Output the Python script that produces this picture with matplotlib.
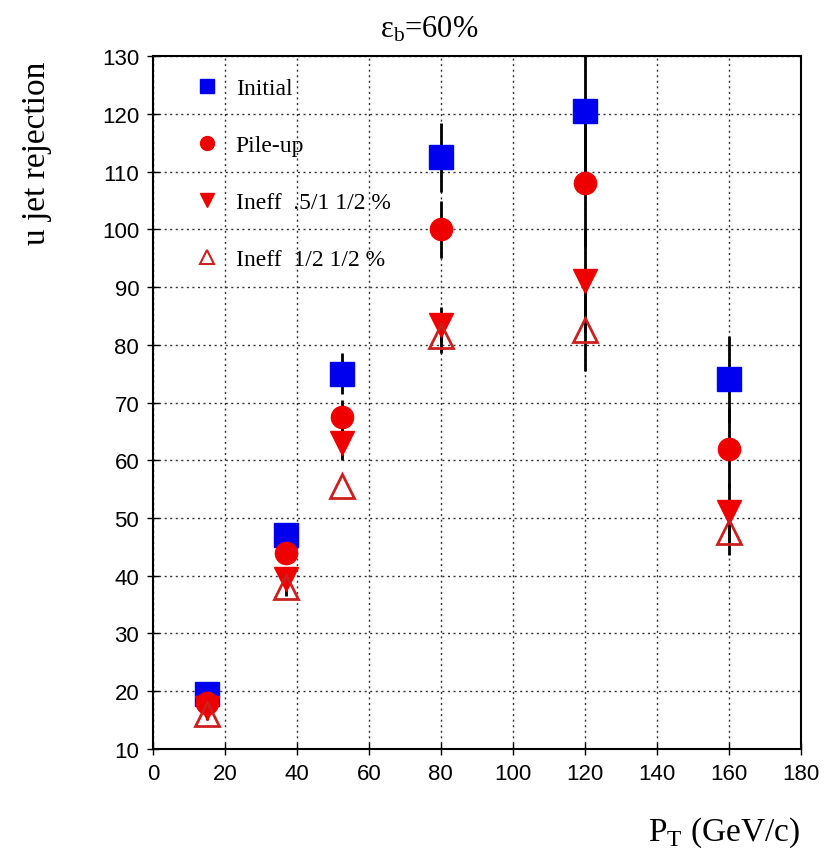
import matplotlib.pyplot as plt
from matplotlib.lines import Line2D

pt = [15, 37, 52.5, 80, 120, 160]

initial = [19.5, 47, 75, 112.5, 120.5, 74]
pileup = [18, 44, 67.5, 100, 108, 62]
ineff_a = [17, 39.5, 63, 83.5, 91, 51]
ineff_b = [16, 38, 55.5, 81.5, 82.5, 47.5]

err_initial = [1.5, 2, 3.5, 6, 12, 7.5]
err_pileup = [1.5, 2, 3, 5, 11, 7]
err_ineff_a = [1, 1.5, 3, 3, 9, 5]
err_ineff_b = [1, 1.5, 0, 3, 7, 4]

labels = ["Initial", "Pile-up", "Ineff  .5/1 1/2 %", "Ineff  1/2 1/2 %"]

serif = ["Liberation Serif", "DejaVu Serif"]
narrow = ["Liberation Sans Narrow", "Liberation Sans", "DejaVu Sans"]

fig = plt.figure(figsize=(8.25, 8.54), dpi=100)
ax = fig.add_axes([0.1855, 0.122, 0.785, 0.811])

ax.grid(True, color="black", linestyle=(0, (1.5, 2.5)), linewidth=1.0, alpha=0.8)
ax.set_axisbelow(True)

ek = dict(ecolor="black", elinewidth=2, capsize=0, linestyle="none", zorder=3)
ax.errorbar(pt, initial, yerr=err_initial, marker="s", ms=17, mfc="#0000ee", mec="#0000ee", **ek)
ax.errorbar(pt, pileup, yerr=err_pileup, marker="o", ms=16, mfc="#ee0000", mec="#ee0000", **ek)
ax.errorbar(pt, ineff_a, yerr=err_ineff_a, marker="v", ms=17, mfc="#ee0000", mec="#ee0000", **ek)
ax.errorbar(pt, ineff_b, yerr=err_ineff_b, marker="^", ms=17, mfc="none", mec="#cc2020", mew=2, **ek)

ax.set_xlim(0, 180)
ax.set_ylim(10, 130)
ax.set_xticks(range(0, 181, 20))
ax.set_yticks(range(10, 131, 10))
ax.tick_params(direction="inout", length=8, width=1, labelsize=16, pad=6)
for lab in ax.get_xticklabels() + ax.get_yticklabels():
    lab.set_family(narrow)
for s in ax.spines.values():
    s.set_linewidth(1.5)

handles = [
    Line2D([], [], ls="none", marker="s", ms=10, mfc="#0000ee", mec="#0000ee"),
    Line2D([], [], ls="none", marker="o", ms=10, mfc="#ee0000", mec="#ee0000"),
    Line2D([], [], ls="none", marker="v", ms=10, mfc="#ee0000", mec="#ee0000"),
    Line2D([], [], ls="none", marker="^", ms=10, mfc="none", mec="#cc2020", mew=1.5),
]
ax.legend(handles, labels, loc="upper left", bbox_to_anchor=(0.033, 1.0), frameon=False,
          prop={"family": serif, "size": 17}, labelspacing=1.5, handletextpad=0.7,
          handlelength=1.0)

fig.text(0.52, 0.965, r"$\mathregular{\varepsilon_b}$=60%", ha="center", va="center",
         fontsize=22, family=serif)
fig.text(0.045, 0.82, "u jet rejection", rotation=90, ha="center", va="center",
         fontsize=24, family=serif)
fig.text(0.97, 0.025, r"P$_\mathregular{T}$ (GeV/c)", ha="right", va="center",
         fontsize=24, family=serif)

fig.savefig("out.png", dpi=100)
